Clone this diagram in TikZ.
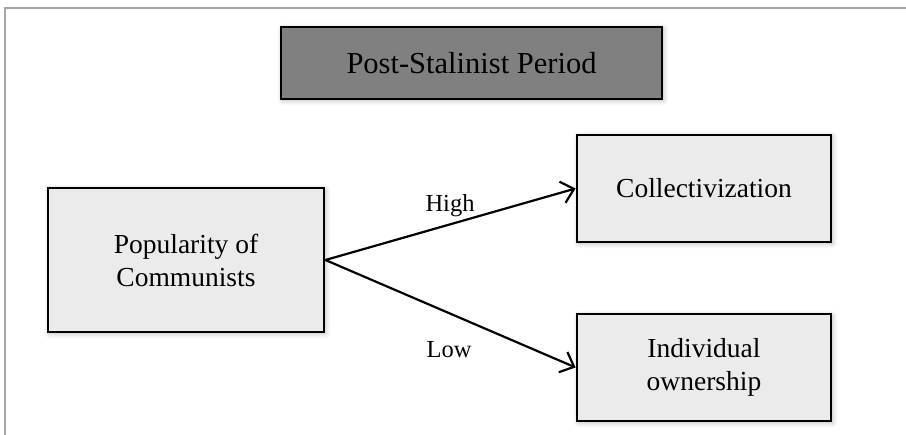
\documentclass[tikz,border=0pt]{standalone}
\usepackage{fontspec}
\setmainfont{Liberation Serif}
\usetikzlibrary{arrows.meta,shadows.blur}
\definecolor{boxfill}{HTML}{EBEBEB}
\definecolor{titlefill}{HTML}{808080}
\definecolor{framegray}{HTML}{A6A6A6}
\tikzset{
  box/.style={draw=black, line width=2.8pt, fill=boxfill, rectangle, align=center,
    font=\fontsize{27.5}{33}\selectfont, inner sep=0pt,
    blur shadow={shadow xshift=1.5pt, shadow yshift=-1.5pt, shadow blur radius=5pt, shadow opacity=30}},
  titlebox/.style={box, fill=titlefill, font=\fontsize{30.5}{36}\selectfont},
  link/.style={line width=2.2pt, -{Straight Barb[length=12pt,width=22pt,line width=2.2pt]}},
  lab/.style={font=\fontsize{24.5}{28}\selectfont, inner sep=0pt, anchor=base}
}
\begin{document}
\begin{tikzpicture}[x=1pt,y=-1pt]
\useasboundingbox (0,0) rectangle (906,435);
\draw[framegray, line width=2pt] (5,435) -- (5,8) -- (906,8);
\node[titlebox, minimum width=381pt, minimum height=72pt] (title) at (471.5,63) {Post-Stalinist Period};
\node[box, minimum width=276pt, minimum height=144pt] (pop) at (186,260) {Popularity of\\Communists};
\node[box, minimum width=254pt, minimum height=107pt] (coll) at (704,188.5) {Collectivization};
\node[box, minimum width=254pt, minimum height=107pt] (ind) at (704,367.5) {Individual\\ownership};
\draw[link] (pop.east) -- (coll.west);
\draw[link] (pop.east) -- (ind.west);
\node[lab] (high) at (450,212) {High};
\node[lab] (low) at (449,358) {Low};
\end{tikzpicture}
\end{document}
